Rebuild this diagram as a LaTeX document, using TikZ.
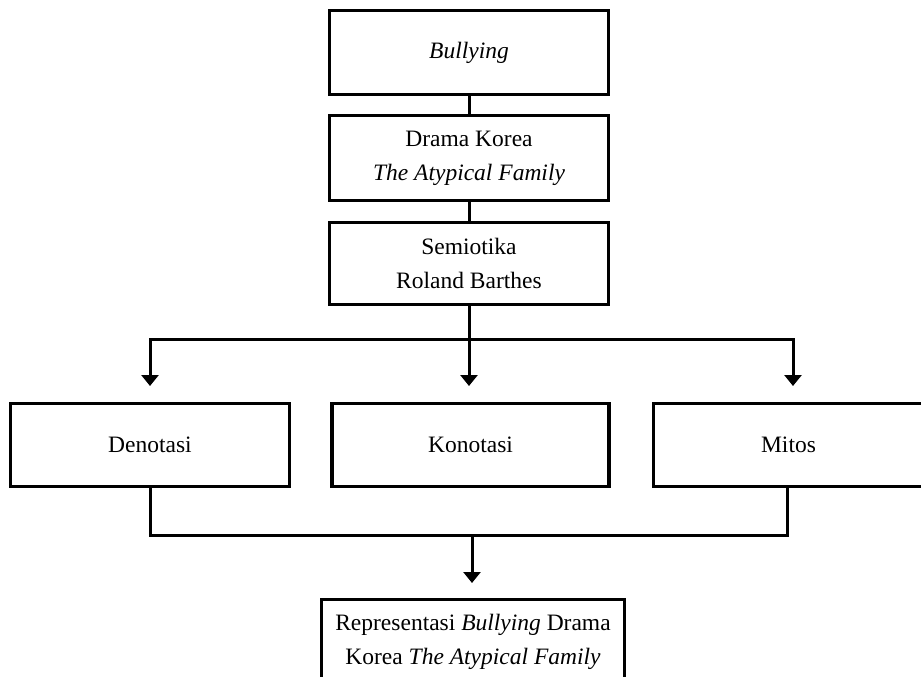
\documentclass[tikz,border=0pt]{standalone}
\usepackage{fontspec}
\setmainfont{Liberation Serif}
\usetikzlibrary{arrows.meta}
\begin{document}
\begin{tikzpicture}[x=1pt,y=-1pt,
  box/.style={draw=black,line width=3.5pt,align=center,inner sep=0pt,
    font=\fontsize{23.5}{34}\selectfont},
  conn/.style={draw=black,line width=3pt},
  arr/.style={conn,-{Triangle[width=17pt,length=11pt]}}]
\useasboundingbox (0,0) rectangle (921,677);
\node[box,minimum width=279pt,minimum height=84pt] (b1) at (469,52.5) {\itshape Bullying};
\node[box,minimum width=279pt,minimum height=85pt] (b2) at (469,158) {Drama Korea\\\itshape The Atypical Family};
\node[box,minimum width=279pt,minimum height=82pt] (b3) at (469,263.5) {Semiotika\\Roland Barthes};
\node[box,minimum width=279pt,minimum height=83pt] (den) at (150,445) {Denotasi};
\node[box,minimum width=277pt,minimum height=83pt] (kon) at (470.5,445) {Konotasi};
\node[box,minimum width=270pt,minimum height=83pt] (mit) at (788.5,445) {Mitos};
\node[box,minimum width=303pt,minimum height=84pt] (fin) at (473,641.5) {Representasi \textit{Bullying} Drama\\Korea \textit{The Atypical Family}};
\coordinate (split) at (469,339);
\coordinate (aD) at (150,386);
\coordinate (aK) at (469,386);
\coordinate (aM) at (793,386);
\coordinate (join) at (472,535);
\coordinate (aF) at (472,583);
\draw[conn] (b1.south) -- (b2.north);
\draw[conn] (b2.south) -- (b3.north);
\draw[conn] (b3.south) -- (split);
\draw[arr] (split) -| (aD);
\draw[arr] (split) -| (aM);
\draw[arr] (split) -- (aK);
\draw[conn] (den.south) |- (join);
\draw[conn] (mit.south -| 787,0) |- (join);
\draw[arr] (join) -- (aF);
\end{tikzpicture}
\end{document}
